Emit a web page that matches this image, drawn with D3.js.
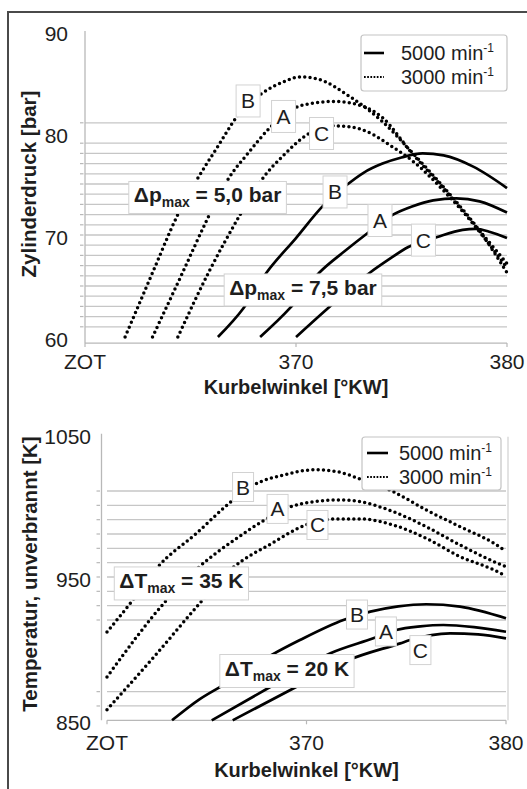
<!DOCTYPE html>
<html><head><meta charset="utf-8">
<script src="https://cdn.jsdelivr.net/npm/d3@7"></script>
<style>
html,body{margin:0;padding:0;background:#fff;}
svg{display:block;font-family:"Liberation Sans",Arial,Helvetica,sans-serif;}
</style>
</head><body>
<svg id="c" width="527" height="789"></svg>
<script>
// ---------- data ----------
const angleTicks = [360, 370, 380];
const angleTickLabels = ["ZOT", "370", "380"];

const pressureTicks = [60, 70, 80, 90];
const pressureGrid = [61,62,63,64,65,66,67,68,69,70,71,72,73,74,75,76,77,78,79,81];
const pressureAxisMin = 59.4;

const tempTicks = [850, 950, 1050];
const tempGrid = [860,870,920,930,940,950,960,970,980,990,1000,1010];

// Zylinderdruck [bar] vs Kurbelwinkel [°KW]
const p5000A = [[368.3,60],[369.7,62.8],[371.1,66.3],[372.3,68.4],[373.4,70.2],[374.6,72.0],[375.5,72.8],[376.5,73.4],[377.6,73.6],[378.7,73.3],[380,72.2]];
const p5000B = [[366.3,60],[367.5,62.8],[368.6,66.3],[370,69.7],[371.3,72.9],[372.4,74.9],[373.2,76.1],[374.1,77],[375,77.6],[376,78],[377,77.8],[378.4,76.7],[380,74.6]];
const p5000C = [[370,60],[371.5,62.8],[373.5,66.3],[374.4,67.6],[375.3,68.8],[376.7,69.8],[377.9,70.5],[378.5,70.6],[379.2,70.3],[380,69.7]];
const p3000A = [[363.2,60],[364.6,66.2],[365.9,72],[366.7,75.2],[367.8,78.2],[368.8,80.6],[370,82.5],[371.1,83],[371.8,83.1],[372.7,82.9],[374.1,81.5],[375.5,78.0],[377.2,74.1],[378.7,70.3],[380,66.8]];
const p3000B = [[361.9,60],[363.2,66.3],[364.4,72],[365.3,75.4],[366.3,78.7],[367.2,81.6],[368.4,83.9],[369.4,85],[370.2,85.5],[371,85.3],[372.6,83.5],[374.1,81.1],[375.5,78.1],[377.2,74.2],[378.7,70.4],[380,66.3]];
const p3000C = [[364.4,60],[365.9,66.5],[367.3,71.8],[368.3,75.2],[369.5,78],[370.5,79.8],[371.8,80.7],[372.6,80.6],[373.4,80.1],[374.6,78.6],[375.5,77.3],[377.2,73.9],[378.7,70.4],[380,67.2]];

// Temperatur, unverbrannt [K] vs Kurbelwinkel [°KW]
const t5000A = [[365.25,850],[368.2,873.4],[371.2,896.8],[373.35,907.2],[374.5,913],[375.7,915.5],[376.86,916.5],[378.4,915],[380,911.8]];
const t5000B = [[363.26,850],[364.65,864.8],[365.83,874.6],[368.25,895.6],[369.67,906],[371.85,920],[373.2,925.8],[374.6,929.5],[376,931],[377.7,929.3],[380,921.2]];
const t5000C = [[366.3,850],[369.5,873.4],[372.1,892],[374.7,903.7],[375.2,906],[377.2,910.7],[378.6,910],[380,907.2]];
const t3000A = [[360,880.2],[363,934],[364.56,956.3],[366.5,977],[367.9,989.8],[369.2,999],[370.5,1002.8],[371.7,1003.8],[372.7,1002.5],[374.35,995.6],[376,985.1],[377.7,972.3],[379.4,960.7],[380,957.2]];
const t3000B = [[360,911.6],[361.3,934],[362.5,956.3],[364.5,980.7],[366.3,1003.5],[367.4,1014.5],[368.8,1021],[370.4,1024.8],[371.6,1023.3],[372.8,1017.7],[374.35,1009.5],[376,996.8],[377.7,985.1],[379.4,973.5],[380,968]];
const t3000C = [[360,857.4],[362.4,895],[364.8,934],[366.3,956.3],[368.2,973],[370,986.5],[371.4,990.5],[372.7,990.5],[374.35,986.3],[376,977],[377.7,964.2],[379.4,954.9],[380,950.7]];

const legendLabels = ["5000 min", "3000 min"];

// annotations (data coordinates)
const pressureLetters = [["B",367.73,83.14],["A",369.41,81.62],["C",371.21,79.95],["B",371.85,74.22],["A",373.98,71.42],["C",376.04,69.5]];
const pressureNotes = [["Δp"," = 5,0 bar",365.81,73.68],["Δp"," = 7,5 bar",370.33,64.61]];
const tempLetters = [["B",366.82,1012.8],["A",368.55,997.5],["C",370.55,986.3],["B",372.53,923.8],["A",373.98,912],["C",375.71,899]];
const tempNotes = [["ΔT"," = 35 K",363.73,945.5],["ΔT"," = 20 K",369.02,884.4]];

// ---------- drawing ----------
const svg = d3.select("#c");
svg.append("rect").attr("width",527).attr("height",789).attr("fill","#fff");

// outer frame
svg.append("path").attr("d","M8,789 V12 H527").attr("fill","none").attr("stroke","#4a4a4a").attr("stroke-width",2);

const GRID = "#c6c6c6", AX = "#b8b8b8", TXT = "#1e1e1e";

function panel(cfg) {
  const x = d3.scaleLinear().domain([360,380]).range(cfg.xr);
  const y = d3.scaleLinear().domain(cfg.yd).range(cfg.yr);
  const g = svg.append("g");
  const x0 = x(360), x1 = x(380);
  const base = y(cfg.axisMin);

  // gridlines
  g.selectAll(".grid").data(cfg.grid).enter().append("line")
    .attr("x1",x0).attr("x2",x1).attr("y1",d=>y(d)).attr("y2",d=>y(d))
    .attr("stroke",GRID).attr("stroke-width",1.3);
  // small ticks on y axis
  g.selectAll(".yt").data(cfg.grid).enter().append("line")
    .attr("x1",cfg.yAxisX-5).attr("x2",cfg.yAxisX-1.5).attr("y1",d=>y(d)).attr("y2",d=>y(d))
    .attr("stroke",AX).attr("stroke-width",1.2);
  // axes lines
  g.append("line").attr("x1",cfg.yAxisX).attr("x2",cfg.yAxisX).attr("y1",y(cfg.yd[1])).attr("y2",base)
    .attr("stroke",AX).attr("stroke-width",1.3);
  g.append("line").attr("x1",x0).attr("x2",x1).attr("y1",base).attr("y2",base)
    .attr("stroke",AX).attr("stroke-width",1.3);
  g.selectAll(".xt").data(angleTicks).enter().append("line")
    .attr("x1",d=>x(d)).attr("x2",d=>x(d)).attr("y1",base).attr("y2",base+4)
    .attr("stroke",AX).attr("stroke-width",1.2);
  if (cfg.rightBorder) {
    g.append("line").attr("x1",x1+2).attr("x2",x1+2).attr("y1",y(cfg.yd[1])+3).attr("y2",base)
      .attr("stroke","#d0d0d0").attr("stroke-width",1.2);
  }

  // tick labels
  g.selectAll(".yl").data(cfg.yTicks).enter().append("text")
    .attr("x",cfg.yLabelX).attr("y",d=>y(d)+cfg.yLabelDy).attr("text-anchor","end")
    .attr("font-size",21).attr("fill",TXT).text(d=>d);
  g.selectAll(".xl").data(angleTicks).enter().append("text")
    .attr("x",d=>x(d)).attr("y",cfg.xLabelY).attr("text-anchor","middle")
    .attr("font-size",21).attr("fill",TXT).text((d,i)=>angleTickLabels[i]);
  // axis titles
  g.append("text").attr("x",(x0+x1)/2).attr("y",cfg.xTitleY).attr("text-anchor","middle")
    .attr("font-size",20).attr("font-weight","bold").attr("fill",TXT).text("Kurbelwinkel [°KW]");
  g.append("text").attr("transform",`translate(${cfg.yTitleX},${cfg.yTitleY}) rotate(-90)`)
    .attr("text-anchor","middle").attr("font-size",20.5).attr("font-weight","bold").attr("fill",TXT)
    .text(cfg.yTitle);

  // curves
  const line = d3.line().x(d=>x(d[0])).y(d=>y(d[1])).curve(d3.curveMonotoneX);
  cfg.series.forEach(s => {
    const p = g.append("path").attr("d",line(s.values)).attr("fill","none").attr("stroke","#000");
    if (s.dotted) p.attr("stroke-width",3.5).attr("stroke-dasharray","0 5.3").attr("stroke-linecap","round");
    else p.attr("stroke-width",2.7).attr("stroke-linecap","butt");
  });

  // letter labels
  cfg.letters.forEach(([t,d,v]) => {
    const cx = x(d), cy = y(v);
    g.append("rect").attr("x",cx-cfg.lw/2).attr("y",cy-cfg.lh/2).attr("width",cfg.lw).attr("height",cfg.lh)
      .attr("fill","#fff").attr("stroke","#d2d2d2").attr("stroke-width",1);
    g.append("text").attr("x",cx).attr("y",cy+7.5).attr("text-anchor","middle")
      .attr("font-size",21).attr("fill",TXT).text(t);
  });
  // delta notes
  cfg.notes.forEach(([m,rest,d,v]) => {
    const cx = x(d), cy = y(v);
    const r = g.append("rect").attr("fill","#fff").attr("stroke","#d2d2d2").attr("stroke-width",1);
    const t = g.append("text").attr("x",cx).attr("y",cy+5).attr("text-anchor","middle")
      .attr("font-size",21).attr("font-weight","bold").attr("fill",TXT);
    t.append("tspan").text(m);
    t.append("tspan").attr("font-size",14).attr("dy",5).text("max");
    t.append("tspan").attr("dy",-5).text(rest);
    const bb = t.node().getBBox();
    r.attr("x",cx-bb.width/2-5).attr("y",cy-cfg.nh/2).attr("width",bb.width+10).attr("height",cfg.nh);
  });

  // legend
  const L = cfg.legend;
  g.append("rect").attr("x",L.x).attr("y",L.y).attr("width",L.w).attr("height",L.h).attr("rx",3)
    .attr("fill","#fff").attr("stroke","#c4c4c4").attr("stroke-width",1.2);
  legendLabels.forEach((lab,i) => {
    const ly = L.rows[i];
    const ln = g.append("line").attr("x1",L.lx0).attr("x2",L.lx1).attr("y1",ly).attr("y2",ly).attr("stroke","#000");
    if (i===0) ln.attr("stroke-width",2.6);
    else ln.attr("stroke-width",2).attr("stroke-dasharray","1.7 1.5");
    const t = g.append("text").attr("x",L.tx).attr("y",ly+7).attr("font-size",20).attr("fill",TXT);
    t.append("tspan").text(lab);
    t.append("tspan").attr("font-size",12).attr("dy",-8).text("-1");
  });
}

panel({
  xr:[85,507], yd:[60,90], yr:[337,31], axisMin:pressureAxisMin,
  grid:pressureGrid, yTicks:pressureTicks, yAxisX:85, yLabelX:68, yLabelDy:9.5,
  xLabelY:369, xTitleY:394, yTitleX:36, yTitleY:184, yTitle:"Zylinderdruck [bar]",
  series:[
    {values:p5000A},{values:p5000B},{values:p5000C},
    {values:p3000A,dotted:true},{values:p3000B,dotted:true},{values:p3000C,dotted:true}
  ],
  letters:pressureLetters, lw:24, lh:32, notes:pressureNotes, nh:32,
  legend:{x:361,y:35,w:146,h:56,lx0:364,lx1:384,tx:401,rows:[53,77]}
});

panel({
  xr:[107,506], yd:[850,1050], yr:[720.3,433.7], axisMin:850,
  grid:tempGrid, yTicks:tempTicks, yAxisX:101.5, yLabelX:91, yLabelDy:10,
  xLabelY:750, xTitleY:777, yTitleX:37, yTitleY:574, yTitle:"Temperatur, unverbrannt [K]",
  rightBorder:true,
  series:[
    {values:t5000A},{values:t5000B},{values:t5000C},
    {values:t3000A,dotted:true},{values:t3000B,dotted:true},{values:t3000C,dotted:true}
  ],
  letters:tempLetters, lw:21, lh:29, notes:tempNotes, nh:33,
  legend:{x:362,y:437,w:139,h:53,lx0:367,lx1:388,tx:399,rows:[453,477]}
});
</script>
</body></html>
